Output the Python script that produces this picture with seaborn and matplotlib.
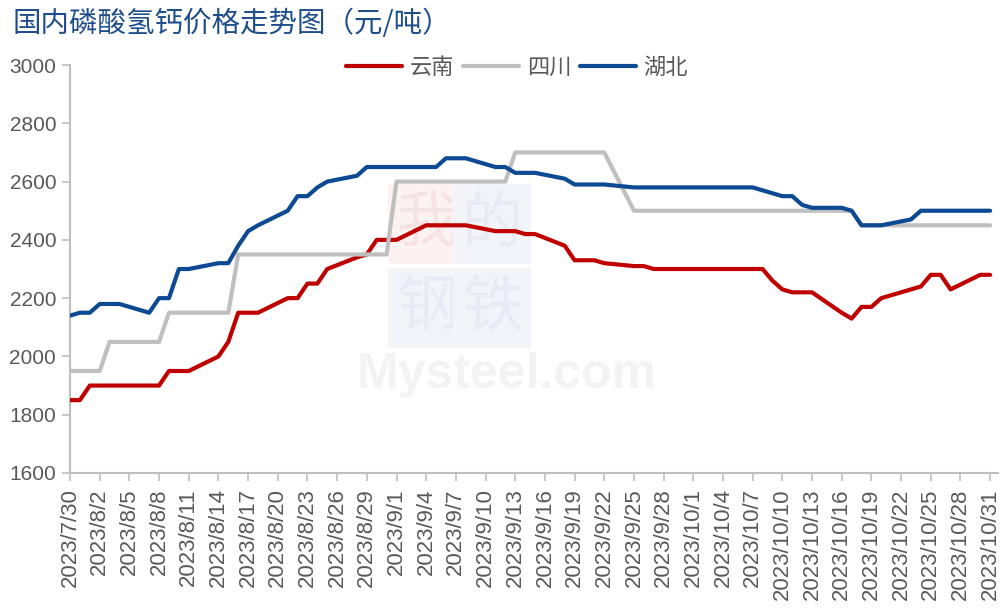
import matplotlib
matplotlib.use("Agg")
import matplotlib.pyplot as plt
import numpy as np
import pandas as pd
import seaborn as sns

# ── Data ──────────────────────────────────────────────────────────────────────
# trading days (weekdays, National Day holiday removed, make-up days 10/7-10/8 added)
trade_days = pd.bdate_range("2023-07-31", "2023-10-31")
holiday = (trade_days >= "2023-09-29") & (trade_days <= "2023-10-06")
dates = trade_days[~holiday].append(pd.to_datetime(["2023-07-30", "2023-10-07", "2023-10-08"])).sort_values()

yunnan = [
    1850,
    1850, 1900, 1900, 1900, 1900,
    1900, 1900, 1950, 1950, 1950,
    2000, 2050, 2150, 2150, 2150,
    2200, 2200, 2250, 2250, 2300,
    2340, 2350, 2400, 2400, 2400,
    2450, 2450, 2450, 2450, 2450,
    2430, 2430, 2430, 2420, 2420,
    2380, 2330, 2330, 2330, 2320,
    2310, 2310, 2300, 2300,
    2300, 2300,
    2260, 2230, 2220, 2220, 2220,
    2150, 2130, 2170, 2170, 2200,
    2230, 2240, 2280, 2280, 2230,
    2280, 2280,
]
sichuan = [
    1950,
    1950, 1950, 1950, 2050, 2050,
    2050, 2050, 2150, 2150, 2150,
    2150, 2150, 2350, 2350, 2350,
    2350, 2350, 2350, 2350, 2350,
    2350, 2350, 2350, 2350, 2600,
    2600, 2600, 2600, 2600, 2600,
    2600, 2600, 2700, 2700, 2700,
    2700, 2700, 2700, 2700, 2700,
    2500, 2500, 2500, 2500,
    2500, 2500,
    2500, 2500, 2500, 2500, 2500,
    2500, 2500, 2450, 2450, 2450,
    2450, 2450, 2450, 2450, 2450,
    2450, 2450,
]
hubei = [
    2140,
    2150, 2150, 2180, 2180, 2180,
    2150, 2200, 2200, 2300, 2300,
    2320, 2320, 2380, 2430, 2450,
    2500, 2550, 2550, 2580, 2600,
    2620, 2650, 2650, 2650, 2650,
    2650, 2650, 2680, 2680, 2680,
    2650, 2650, 2630, 2630, 2630,
    2610, 2590, 2590, 2590, 2590,
    2580, 2580, 2580, 2580,
    2580, 2570,
    2560, 2550, 2550, 2520, 2510,
    2510, 2500, 2450, 2450, 2450,
    2470, 2500, 2500, 2500, 2500,
    2500, 2500,
]
regions = ["云南", "四川", "湖北"]
colors = ["#C00000", "#BFBFBF", "#0D4A93"]

df = pd.DataFrame({"date": dates, "云南": yunnan, "四川": sichuan, "湖北": hubei})
long = df.melt(id_vars="date", var_name="region", value_name="price")

# ── Figure ────────────────────────────────────────────────────────────────────
sns.set_theme(style="white")
plt.rcParams["font.family"] = ["Noto Sans CJK SC", "DejaVu Sans"]

fig = plt.figure(figsize=(10.06, 6.10), dpi=100)
ax = fig.add_axes([0.0696, 0.2246, 0.9224, 0.6688])

# faint watermark
wm = dict(transform=ax.transAxes, ha="center", va="center", zorder=0, fontsize=44)
for ch, x, y, fc, tc in [("我", 0.385, 0.61, "#FCF2F2", "#F6E4E4"),
                         ("的", 0.455, 0.61, "#F2F4F9", "#E8EBF3"),
                         ("钢", 0.385, 0.405, "#F2F4F9", "#E8EBF3"),
                         ("铁", 0.455, 0.405, "#F2F4F9", "#E8EBF3")]:
    ax.text(x, y, ch, color=tc,
            bbox=dict(boxstyle="square,pad=0.14", fc=fc, ec="none"), **wm)
ax.text(0.471, 0.24, "Mysteel.com", fontsize=36, fontweight="bold", color="#F3F3F3",
        family="Liberation Sans", transform=ax.transAxes, ha="center", va="center",
        zorder=0)

sns.lineplot(data=long, x="date", y="price", hue="region", hue_order=regions,
             palette=colors, linewidth=3, ax=ax, legend=False, zorder=3)

ax.set_ylim(1600, 3000)
ax.set_yticks(np.arange(1600, 3001, 200))
ax.set_xlim(pd.Timestamp("2023-07-30"), pd.Timestamp("2023-10-31") + pd.Timedelta(hours=19))
ticks = pd.date_range("2023-07-30", "2023-10-31", freq="3D")
ax.set_xticks(ticks)
ax.set_xticklabels([f"{d.year}/{d.month}/{d.day}" for d in ticks], rotation=90,
                   family="Liberation Sans", fontsize=16, color="#595959")
ax.set_yticklabels([str(v) for v in range(1600, 3001, 200)],
                   family="Liberation Sans", fontsize=15, color="#595959")
ax.set_xlabel("")
ax.set_ylabel("")

for side in ["top", "right"]:
    ax.spines[side].set_visible(False)
for side in ["left", "bottom"]:
    ax.spines[side].set_color("#BFBFBF")
    ax.spines[side].set_linewidth(1.5)
ax.tick_params(axis="both", which="major", direction="out", length=6, width=1.2,
               color="#BFBFBF", left=True, bottom=True)
ax.tick_params(axis="x", pad=5)
ax.tick_params(axis="y", pad=4)

handles = [plt.Line2D([], [], color=c, linewidth=3) for c in colors]
fig.legend(handles, regions, loc="center", bbox_to_anchor=(0.514, 0.89), ncol=3,
           frameon=False, fontsize=16, handlelength=2.5, columnspacing=0.4,
           handletextpad=0.36, labelcolor="#595959")

fig.text(0.012, 0.985, "国内磷酸氢钙价格走势图（元/吨）", fontsize=20.5,
         color="#1F4E8C", ha="left", va="top")

fig.savefig("out.png", dpi=100)
